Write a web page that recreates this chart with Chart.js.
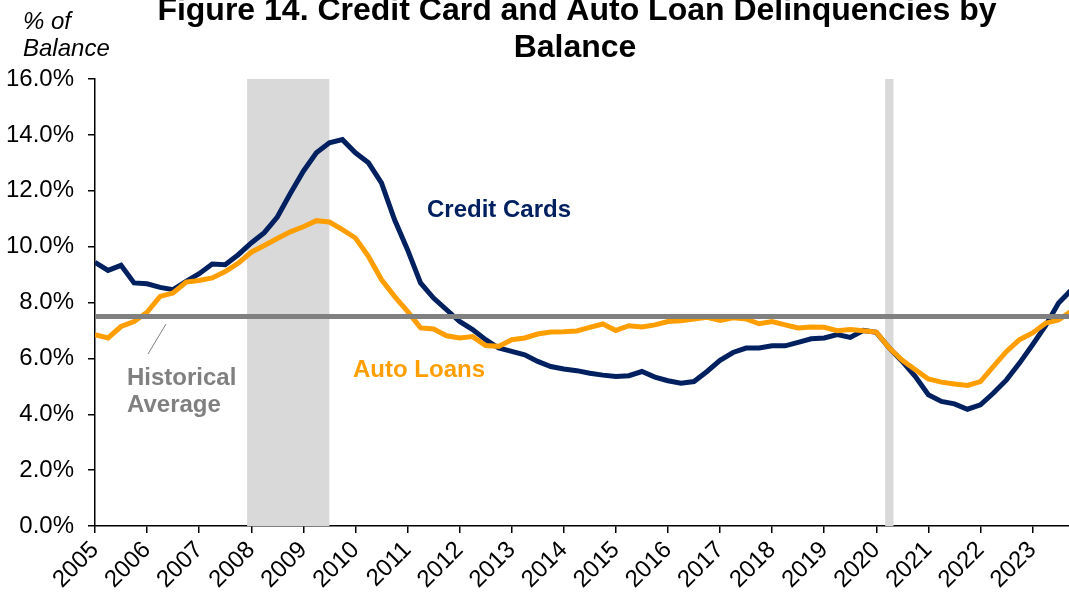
<!DOCTYPE html>
<html>
<head>
<meta charset="utf-8">
<script src="https://cdn.jsdelivr.net/npm/chart.js@4"></script>
<style>
  html, body { margin: 0; padding: 0; background: #fff; }
  #wrap { width: 1069px; height: 596px; }
</style>
</head>
<body>
<div id="wrap"><canvas id="myChart" width="1069" height="596"></canvas></div>
<script>
// quarters 2005Q1 .. 2023Q4
const startYear = 2005
const endYear = 2023
const quarters = []
for (let y = startYear; y <= endYear; y++) {
    for (let q = 0; q < 4; q++) quarters.push(y + q / 4)
}

const creditCards = [
    9.44, 9.15, 9.33, 8.70,
    8.67, 8.54, 8.46, 8.76,
    9.03, 9.38, 9.35, 9.71,
    10.13, 10.50, 11.06, 11.90,
    12.70, 13.36, 13.72, 13.83,
    13.36, 13.00, 12.28, 10.97,
    9.89, 8.70, 8.16, 7.74,
    7.32, 7.03, 6.67, 6.37,
    6.25, 6.13, 5.89, 5.71,
    5.62, 5.56, 5.47, 5.40,
    5.35, 5.38, 5.53, 5.33,
    5.20, 5.11, 5.17, 5.53,
    5.93, 6.21, 6.37, 6.37,
    6.45, 6.45, 6.57, 6.70,
    6.73, 6.85, 6.75, 7.00,
    6.93, 6.37, 5.89, 5.35,
    4.70, 4.46, 4.37, 4.18,
    4.34, 4.76, 5.23, 5.83,
    6.49, 7.17, 7.98, 8.46
]

const autoLoans = [
    6.85, 6.73, 7.14, 7.32,
    7.65, 8.22, 8.34, 8.73,
    8.79, 8.88, 9.11, 9.41,
    9.80, 10.04, 10.29, 10.53,
    10.71, 10.93, 10.88, 10.61,
    10.31, 9.65, 8.82, 8.22,
    7.68, 7.09, 7.05, 6.81,
    6.73, 6.78, 6.46, 6.43,
    6.67, 6.73, 6.87, 6.94,
    6.95, 6.98, 7.11, 7.23,
    7.00, 7.17, 7.12, 7.20,
    7.32, 7.35, 7.41, 7.47,
    7.36, 7.45, 7.41, 7.24,
    7.32, 7.20, 7.09, 7.12,
    7.11, 6.99, 7.03, 6.99,
    6.94, 6.37, 5.93, 5.59,
    5.26, 5.15, 5.08, 5.03,
    5.17, 5.71, 6.25, 6.67,
    6.91, 7.26, 7.38, 7.70
]

const historicalAverage = 7.5
const xMin = 2005
const xMax = 2023.7
const yTicks = [0, 2, 4, 6, 8, 10, 12, 14, 16]

// recession shading (start, end)
const recessionStart = [2007.92, 2020.17]
const recessionEnd = [2009.5, 2020.33]

const FONT = "'Liberation Sans', Arial, Helvetica, sans-serif"
const NAVY = '#002060'
const ORANGE = '#FF9E00'
const GREY = '#808080'

const shading = {
    id: 'shading',
    beforeDatasetsDraw(chart) {
        const { ctx, chartArea, scales } = chart
        ctx.save()
        ctx.fillStyle = '#D9D9D9'
        recessionStart.forEach((s, i) => {
            const x1 = scales.x.getPixelForValue(s)
            const x2 = scales.x.getPixelForValue(recessionEnd[i])
            ctx.fillRect(x1, chartArea.top, x2 - x1, chartArea.bottom - chartArea.top)
        })
        ctx.restore()
    }
}

const labels = {
    id: 'labels',
    afterDraw(chart) {
        const ctx = chart.ctx
        ctx.save()
        ctx.textBaseline = 'alphabetic'

        // title
        ctx.fillStyle = '#000'
        ctx.textAlign = 'center'
        ctx.font = 'bold 32px ' + FONT
        ctx.fillText('Figure 14. Credit Card and Auto Loan Delinquencies by', 577, 20)
        ctx.fillText('Balance', 575, 57)

        // axis unit
        ctx.textAlign = 'left'
        ctx.font = 'italic 24px ' + FONT
        ctx.fillText('% of', 23, 29)
        ctx.fillText('Balance', 23, 56)

        // series labels
        ctx.font = 'bold 24px ' + FONT
        ctx.fillStyle = NAVY
        ctx.fillText('Credit Cards', 427, 217)
        ctx.fillStyle = ORANGE
        ctx.fillText('Auto Loans', 353, 377)
        ctx.fillStyle = GREY
        ctx.fillText('Historical', 127, 385)
        ctx.fillText('Average', 127, 412)

        // leader line
        ctx.strokeStyle = GREY
        ctx.lineWidth = 1
        ctx.beginPath()
        ctx.moveTo(166, 324)
        ctx.lineTo(148, 354)
        ctx.stroke()
        ctx.restore()
    }
}

const ctx = document.getElementById('myChart').getContext('2d')
const myChart = new Chart(ctx, {
    type: 'line',
    data: {
        datasets: [
            {
                label: 'Historical Average',
                data: [{ x: xMin, y: historicalAverage }, { x: xMax, y: historicalAverage }],
                borderColor: GREY,
                borderWidth: 5,
                pointRadius: 0
            },
            {
                label: 'Auto Loans',
                data: quarters.map((q, i) => ({ x: q, y: autoLoans[i] })),
                borderColor: ORANGE,
                borderWidth: 5,
                pointRadius: 0,
                tension: 0
            },
            {
                label: 'Credit Cards',
                data: quarters.map((q, i) => ({ x: q, y: creditCards[i] })),
                borderColor: NAVY,
                borderWidth: 5,
                pointRadius: 0,
                tension: 0
            }
        ]
    },
    options: {
        responsive: false,
        animation: false,
        devicePixelRatio: 1,
        layout: { padding: { top: 79, left: 0, right: 0, bottom: 0 } },
        plugins: {
            legend: { display: false },
            tooltip: { enabled: false },
            title: { display: false }
        },
        scales: {
            x: {
                type: 'linear',
                min: xMin,
                max: xMax,
                afterBuildTicks(scale) {
                    scale.ticks = []
                    for (let y = startYear; y <= endYear; y++) scale.ticks.push({ value: y })
                },
                afterFit(scale) { scale.height = 70 },
                grid: {
                    drawOnChartArea: false,
                    drawTicks: true,
                    tickLength: 7,
                    color: '#000',
                    lineWidth: 1.5
                },
                border: { display: true, color: '#000', width: 1.5 },
                ticks: {
                    minRotation: 45,
                    maxRotation: 45,
                    autoSkip: false,
                    padding: 3,
                    color: '#000',
                    font: { family: FONT, size: 24 },
                    callback: (v) => String(v)
                }
            },
            y: {
                min: 0,
                max: 16,
                afterBuildTicks(scale) {
                    scale.ticks = yTicks.map(v => ({ value: v }))
                },
                afterFit(scale) { scale.width = 95 },
                grid: {
                    drawOnChartArea: false,
                    drawTicks: true,
                    tickLength: 7,
                    color: '#000',
                    lineWidth: 1.5
                },
                border: { display: true, color: '#000', width: 1.5 },
                ticks: {
                    padding: 14,
                    color: '#000',
                    font: { family: FONT, size: 24 },
                    callback: (v) => v.toFixed(1) + '%'
                }
            }
        }
    },
    plugins: [shading, labels]
})
</script>
</body>
</html>
